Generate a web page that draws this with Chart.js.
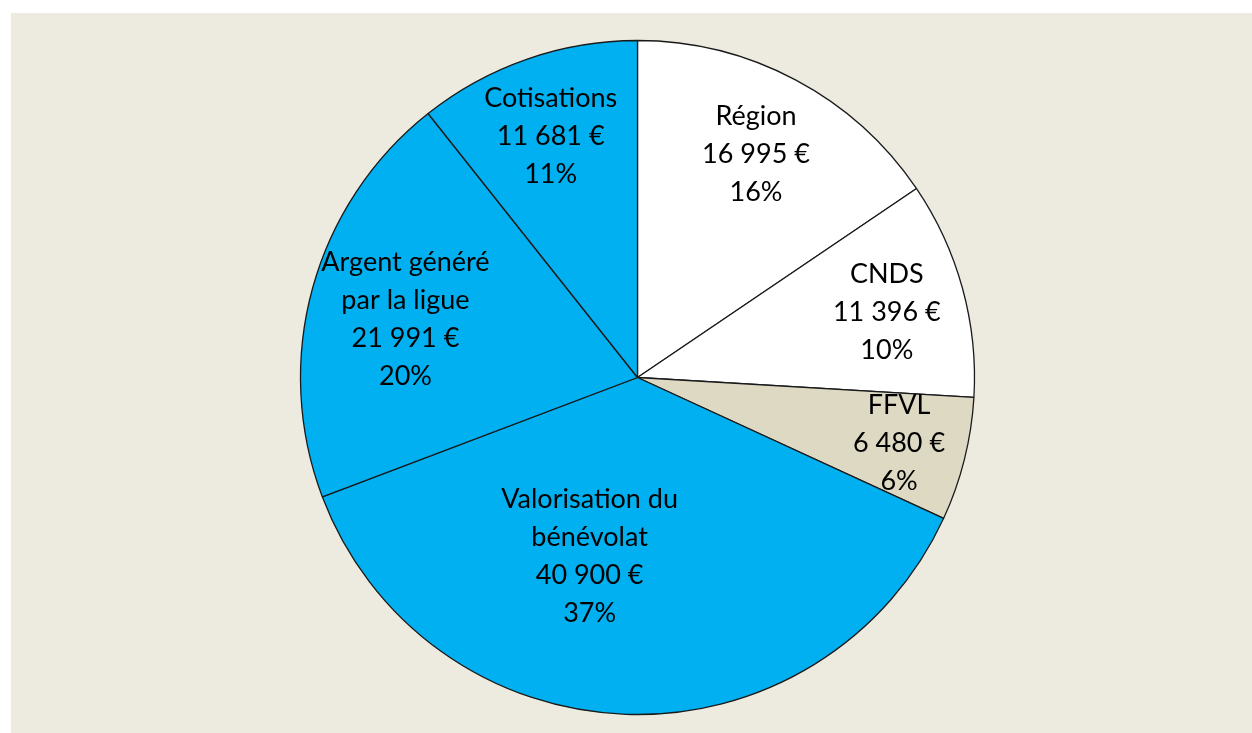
<!DOCTYPE html>
<html>
<head>
<meta charset="utf-8">
<script src="https://cdn.jsdelivr.net/npm/chart.js@4"></script>
<style>
  html, body { margin: 0; padding: 0; background: #fff; }
  #bg { position: absolute; left: 11px; top: 13px; width: 1241px; height: 720px; background: #EDEBE0; }
  #wrap { position: absolute; left: 0; top: 0; width: 1252px; height: 733px; }
</style>
</head>
<body>
<div id="bg"></div>
<div id="wrap"><canvas id="pie"></canvas></div>
<script>
const categories = ["Région", "CNDS", "FFVL", "Valorisation du\nbénévolat", "Argent généré\npar la ligue", "Cotisations"];
const amounts = [16995, 11396, 6480, 40900, 21991, 11681];
const sliceColors = ["#FFFFFF", "#FFFFFF", "#DDD9C3", "#00B0F0", "#00B0F0", "#00B0F0"];

// where each label sits inside its slice (fraction of radius, angle shift in degrees)
const labelRadius = [0.75, 0.765, 0.80, 0.55, 0.71, 0.76];
const labelShift = [0, 0.6, 0, 13, -1.3, -0.6];

function euros(v) {
    return String(v).replace(/\B(?=(\d{3})+(?!\d))/g, " ") + " €";
}

const sliceLabels = {
    id: 'sliceLabels',
    afterDatasetsDraw(chart) {
        const ctx = chart.ctx;
        const meta = chart.getDatasetMeta(0);
        const total = amounts.reduce((a, b) => a + b, 0);
        ctx.save();
        ctx.font = '27px Lato';
        ctx.fillStyle = '#000';
        ctx.textAlign = 'center';
        ctx.textBaseline = 'middle';
        meta.data.forEach((arc, i) => {
            const p = arc.getProps(['x', 'y', 'startAngle', 'endAngle', 'outerRadius'], true);
            const mid = (p.startAngle + p.endAngle) / 2 + labelShift[i] * Math.PI / 180;
            const r = p.outerRadius * labelRadius[i];
            const cx = p.x + Math.cos(mid) * r;
            const cy = p.y + Math.sin(mid) * r;
            const lines = categories[i].split("\n");
            lines.push(euros(amounts[i]));
            lines.push(Math.round(amounts[i] / total * 100) + "%");
            const lh = 38;
            lines.forEach((t, k) => {
                ctx.fillText(t, cx, cy + (k - (lines.length - 1) / 2) * lh);
            });
        });
        ctx.restore();
    }
};

new Chart(document.getElementById("pie"), {
    type: 'pie',
    data: {
        labels: categories,
        datasets: [{
            data: amounts,
            backgroundColor: sliceColors,
            borderColor: "#1A1A1A",
            borderWidth: 1.3,
            radius: 337
        }]
    },
    options: {
        responsive: true,
        maintainAspectRatio: false,
        animation: false,
        layout: { padding: { left: 23, right: 0, top: 22, bottom: 0 } },
        plugins: {
            legend: { display: false },
            tooltip: { enabled: false }
        }
    },
    plugins: [sliceLabels]
});
</script>
</body>
</html>
